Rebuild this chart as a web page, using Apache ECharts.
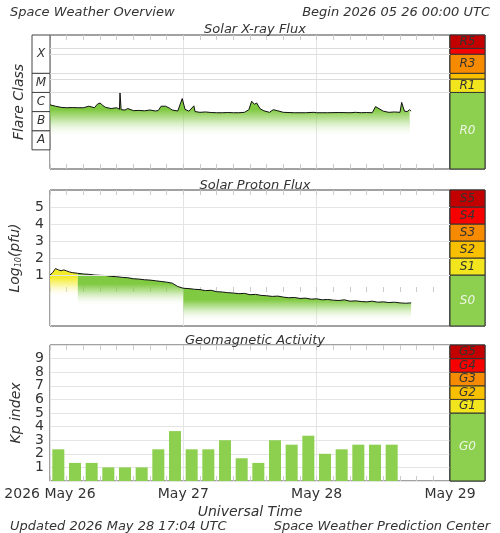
<!DOCTYPE html>
<html>
<head>
<meta charset="utf-8">
<script src="https://cdn.jsdelivr.net/npm/echarts@6/dist/echarts.min.js"></script>
<style>html,body{margin:0;background:#fff}#c{width:500px;height:533px}</style>
</head>
<body>
<div id="c"></div>
<script>
// hours since 2026-05-26 00:00 UTC
const dayLabels = {0: '2026 May 26', 24: 'May 27', 48: 'May 28', 72: 'May 29'};

// X-ray flux, log10(W/m2)
const xrayHours = [0, 1, 2, 3, 4, 5, 6, 7, 8, 8.5, 9, 9.5, 10, 11, 12, 12.5, 12.6, 12.8, 13.5, 14, 15, 16, 17, 18, 19, 19.5, 20, 20.3, 20.8, 21.5, 22, 23, 23.8, 24.3, 25, 25.9, 26.1, 27, 28, 29, 30, 31, 32, 33, 34, 35, 35.8, 36.3, 36.8, 37.2, 37.8, 38.5, 39.5, 40.2, 41, 42, 44, 46, 47.5, 48, 50, 52, 54, 55, 56, 57, 58, 58.6, 60, 61, 62, 63, 63.3, 63.8, 64.3, 64.7, 65];
const xrayLog = [-5.65, -5.72, -5.78, -5.8, -5.79, -5.8, -5.8, -5.72, -5.8, -5.62, -5.55, -5.68, -5.78, -5.84, -5.8, -5.88, -5.02, -5.9, -5.92, -5.84, -5.95, -5.94, -5.96, -5.92, -5.97, -5.94, -5.72, -5.62, -5.72, -5.82, -5.92, -5.97, -5.32, -5.88, -5.98, -5.7, -6.0, -6.04, -6.02, -6.05, -6.06, -6.06, -6.05, -6.06, -6.06, -6.04, -5.9, -5.46, -5.62, -5.55, -5.85, -5.96, -6.04, -5.9, -5.96, -6.04, -6.06, -6.06, -6.04, -6.06, -6.06, -6.05, -6.06, -6.04, -6.06, -6.05, -6.06, -5.74, -5.98, -6.04, -6.02, -6.04, -5.52, -5.98, -6.0, -5.9, -5.98];

// proton flux, log10(pfu)
const protonHours = [0, 0.5, 1, 1.5, 2, 2.5, 3, 3.5, 4, 5, 6, 7, 8, 9, 10, 11, 12, 13, 14, 15, 16, 17, 18, 19, 20, 21, 22, 22.5, 23, 24, 25, 26, 27, 28, 29, 30, 31, 32, 33, 34, 35, 36, 37, 38, 39, 40, 41, 42, 43, 44, 45, 46, 47, 48, 49, 50, 51, 52, 53, 54, 55, 56, 57, 58, 59, 60, 61, 62, 63, 64, 65];
const protonLog = [1.0, 1.15, 1.38, 1.3, 1.25, 1.3, 1.24, 1.18, 1.14, 1.1, 1.06, 1.04, 1.0, 0.98, 0.97, 0.92, 0.9, 0.86, 0.84, 0.78, 0.76, 0.72, 0.7, 0.66, 0.62, 0.58, 0.52, 0.42, 0.32, 0.22, 0.2, 0.16, 0.14, 0.08, 0.1, 0.02, 0.0, -0.04, -0.06, -0.1, -0.08, -0.16, -0.14, -0.2, -0.22, -0.26, -0.24, -0.3, -0.34, -0.32, -0.38, -0.36, -0.42, -0.4, -0.46, -0.44, -0.48, -0.5, -0.46, -0.54, -0.52, -0.56, -0.58, -0.54, -0.6, -0.58, -0.62, -0.6, -0.64, -0.66, -0.64];
// fill segments (hours) : yellow, then green ones
const protonSegments = [[0, 5], [5, 24], [24, 65]];

// Kp index, 3-hour bins
const kpHours = [1.5, 4.5, 7.5, 10.5, 13.5, 16.5, 19.5, 22.5, 25.5, 28.5, 31.5, 34.5, 37.5, 40.5, 43.5, 46.5, 49.5, 52.5, 55.5, 58.5, 61.5];
const kpValues = [2.33, 1.33, 1.33, 1, 1, 1, 2.33, 3.67, 2.33, 2.33, 3, 1.67, 1.33, 3, 2.67, 3.33, 2, 2.33, 2.67, 2.67, 2.67];

// scale bands [from, to, label]
const rBands = [[-9, -5, 'R0'], [-5, -4.3, 'R1'], [-4.3, -4, ''], [-4, -3, 'R3'], [-3, -2.7, ''], [-2.7, -2, 'R5']];
const sBands = [[-2, 1, 'S0'], [1, 2, 'S1'], [2, 3, 'S2'], [3, 4, 'S3'], [4, 5, 'S4'], [5, 6, 'S5']];
const gBands = [[0, 5, 'G0'], [5, 6, 'G1'], [6, 7, 'G2'], [7, 8, 'G3'], [8, 9, 'G4'], [9, 10, 'G5']];
const classBands = [[-8, -7, 'A'], [-7, -6, 'B'], [-6, -5, 'C'], [-5, -4, 'M'], [-4, -2, 'X']];
const xrayLines = [-5, -4.3, -4, -3, -2.7];
const protonTicks = [1, 2, 3, 4, 5];

const bandColors = ['#8dcf4e', '#f2e51d', '#f9c000', '#f68a00', '#f70000', '#c20000'];
const FONT = 'DejaVu Sans';
const txt = {fontFamily: FONT, fontStyle: 'italic', color: '#333'};

const chart = echarts.init(document.getElementById('c'));

const panels = [
  {top: 35, height: 134, min: -9, max: -2},
  {top: 190, height: 136, min: -2, max: 6},
  {top: 345, height: 136, min: 0, max: 10}
];

const grids = [];
const xAxes = [];
const yAxes = [];
const series = [];

function bandArea(bands) {
  return {
    silent: true,
    data: bands.map((b, i) => [{
      yAxis: b[0], name: b[2],
      itemStyle: {color: bandColors[i], borderColor: '#333', borderWidth: 1, opacity: 1},
      label: {show: true, position: 'inside', fontFamily: FONT, fontStyle: 'italic', fontSize: 12,
        color: i === 0 ? '#eef6e4' : '#333'}
    }, {yAxis: b[1]}])
  };
}

panels.forEach((p, k) => {
  grids.push({left: 50, width: 400, top: p.top, height: p.height, show: true, borderColor: '#444', borderWidth: 1, backgroundColor: '#fff'});
  const gMain = grids.length - 1;
  xAxes.push({
    gridIndex: gMain, type: 'value', min: 0, max: 72, interval: 24,
    axisLine: {show: false},
    axisTick: {show: true, inside: true, length: 5, lineStyle: {color: '#ccc'}},
    minorTick: {show: true, splitNumber: 8, length: 5, lineStyle: {color: '#ccc'}},
    splitLine: {show: true, lineStyle: {color: '#e4e4e4'}},
    axisLabel: {show: k === 2, fontFamily: FONT, fontSize: 14, color: '#333', margin: 6,
      formatter: v => dayLabels[v] || ''},
    name: k === 2 ? 'Universal Time' : '', nameLocation: 'middle', nameGap: 24,
    nameTextStyle: {...txt, fontSize: 14}
  });
  xAxes.push({
    gridIndex: gMain, type: 'value', position: 'top', min: 0, max: 72, interval: 24,
    axisLine: {show: false}, splitLine: {show: false}, axisLabel: {show: false},
    axisTick: {show: true, inside: true, length: 5, lineStyle: {color: '#ccc'}},
    minorTick: {show: true, splitNumber: 8, length: 5, lineStyle: {color: '#ccc'}}
  });
  const yMain = {
    gridIndex: gMain, type: 'value', min: p.min, max: p.max,
    axisLine: {show: false}, axisTick: {show: false},
    splitLine: {show: false}, axisLabel: {show: false}
  };
  if (k === 1) {
    Object.assign(yMain, {
      interval: 1,
      axisLabel: {show: true, fontFamily: FONT, fontSize: 14, color: '#333', margin: 6,
        formatter: v => (v >= 1 && v <= 5 ? String(v) : '')},
      name: '{a|Log}{s|10}{a|(pfu)}', nameLocation: 'middle', nameGap: 27,
      nameTextStyle: {rich: {a: {...txt, fontSize: 14}, s: {...txt, fontSize: 8, padding: [8, 0, 0, 0]}}}
    });
  }
  if (k === 2) {
    Object.assign(yMain, {
      interval: 1,
      splitLine: {show: true, lineStyle: {color: '#e4e4e4'}},
      axisLabel: {show: true, fontFamily: FONT, fontSize: 14, color: '#333', margin: 6,
        formatter: v => (v >= 1 && v <= 9 ? String(v) : '')},
      name: 'Kp index', nameLocation: 'middle', nameGap: 27,
      nameTextStyle: {...txt, fontSize: 14}
    });
  }
  yAxes.push(yMain);
  p.x = xAxes.length - 2;
  p.y = yAxes.length - 1;

  grids.push({left: 450, width: 35, top: p.top, height: p.height, show: true, borderColor: '#333', borderWidth: 1});
  const gSide = grids.length - 1;
  xAxes.push({gridIndex: gSide, type: 'value', min: 0, max: 1, show: false});
  yAxes.push({gridIndex: gSide, type: 'value', min: p.min, max: p.max, show: false});
  series.push({
    type: 'line', xAxisIndex: xAxes.length - 1, yAxisIndex: yAxes.length - 1,
    data: [[0.5, p.min]], symbol: 'none', lineStyle: {width: 0}, silent: true,
    markArea: bandArea([rBands, sBands, gBands][k])
  });
});

// flare class box
grids.push({left: 32, width: 18, top: panels[0].top, height: panels[0].height, show: false});
xAxes.push({gridIndex: grids.length - 1, type: 'value', min: 0, max: 1, show: false});
yAxes.push({
  gridIndex: grids.length - 1, type: 'value', min: -9, max: -2,
  axisLine: {show: false}, axisTick: {show: false}, splitLine: {show: false}, axisLabel: {show: false},
  name: 'Flare Class', nameLocation: 'middle', nameGap: 6, nameTextStyle: {...txt, fontSize: 14}
});
series.push({
  type: 'line', xAxisIndex: xAxes.length - 1, yAxisIndex: yAxes.length - 1,
  data: [[0.5, -9]], symbol: 'none', lineStyle: {width: 0}, silent: true,
  markArea: {
    silent: true,
    data: classBands.map(b => [{
      yAxis: b[0], name: b[2],
      itemStyle: {color: '#fff', borderColor: '#444', borderWidth: 1},
      label: {show: true, position: 'inside', ...txt, fontSize: 12}
    }, {yAxis: b[1]}])
  }
});

function fade(rgb, solid, clear) {
  return new echarts.graphic.LinearGradient(0, 0, 0, 1, [
    {offset: 0, color: 'rgb(' + rgb + ')'},
    {offset: solid, color: 'rgb(' + rgb + ')'},
    {offset: solid + (clear - solid) * 0.4, color: 'rgba(' + rgb + ',0.45)'},
    {offset: clear, color: 'rgba(255,255,255,0)'},
    {offset: 1, color: 'rgba(255,255,255,0)'}
  ]);
}
const GREEN = '128,202,66';
const YELLOW = '244,236,42';

const pX = panels[0], pP = panels[1], pK = panels[2];

series.push({
  type: 'line', xAxisIndex: pX.x, yAxisIndex: pX.y, symbol: 'none',
  data: xrayHours.map((h, i) => [h, xrayLog[i]]),
  lineStyle: {color: '#111', width: 1},
  areaStyle: {origin: 'start', opacity: 1, color: fade(GREEN, 0.22, 0.58)},
  markLine: {silent: true, symbol: 'none', label: {show: false},
    lineStyle: {color: '#ddd', type: 'solid', width: 1},
    data: xrayLines.map(v => ({yAxis: v}))}
});

const segFade = [[YELLOW, 0.15, 0.5], [GREEN, 0.2, 0.62], [GREEN, 0.3, 0.88]];
protonSegments.forEach((s, j) => {
  series.push({
    type: 'line', xAxisIndex: pP.x, yAxisIndex: pP.y, symbol: 'none',
    data: protonHours.map((h, i) => [h, protonLog[i]]).filter(d => d[0] >= s[0] && d[0] <= s[1]),
    lineStyle: {width: 0},
    areaStyle: {origin: 'start', opacity: 1, color: fade(...segFade[j])}
  });
});
series.push({
  type: 'line', xAxisIndex: pP.x, yAxisIndex: pP.y, symbol: 'none',
  data: protonHours.map((h, i) => [h, protonLog[i]]),
  lineStyle: {color: '#111', width: 1},
  markLine: {silent: true, symbol: 'none', label: {show: false},
    lineStyle: {color: '#e4e4e4', type: 'solid', width: 1},
    data: protonTicks.map(v => ({yAxis: v}))}
});

series.push({
  type: 'bar', xAxisIndex: pK.x, yAxisIndex: pK.y, barWidth: 12,
  data: kpHours.map((h, i) => [h, kpValues[i]]),
  itemStyle: {color: '#8dcf4e'}
});

const ts = {...txt, fontWeight: 'normal', fontSize: 13};
chart.setOption({
  animation: false,
  backgroundColor: '#fff',
  title: [
    {text: 'Space Weather Overview', left: 5, top: 1, textStyle: ts},
    {text: 'Begin 2026 05 26 00:00 UTC', right: 5, top: 1, textStyle: ts},
    {text: 'Solar X-ray Flux', left: 250, textAlign: 'center', top: 18, textStyle: ts},
    {text: 'Solar Proton Flux', left: 250, textAlign: 'center', top: 174, textStyle: ts},
    {text: 'Geomagnetic Activity', left: 250, textAlign: 'center', top: 329, textStyle: ts},
    {text: 'Updated 2026 May 28 17:04 UTC', left: 5, top: 515, textStyle: ts},
    {text: 'Space Weather Prediction Center', right: 5, top: 515, textStyle: ts}
  ],
  grid: grids,
  xAxis: xAxes,
  yAxis: yAxes,
  series: series
});
</script>
</body>
</html>
